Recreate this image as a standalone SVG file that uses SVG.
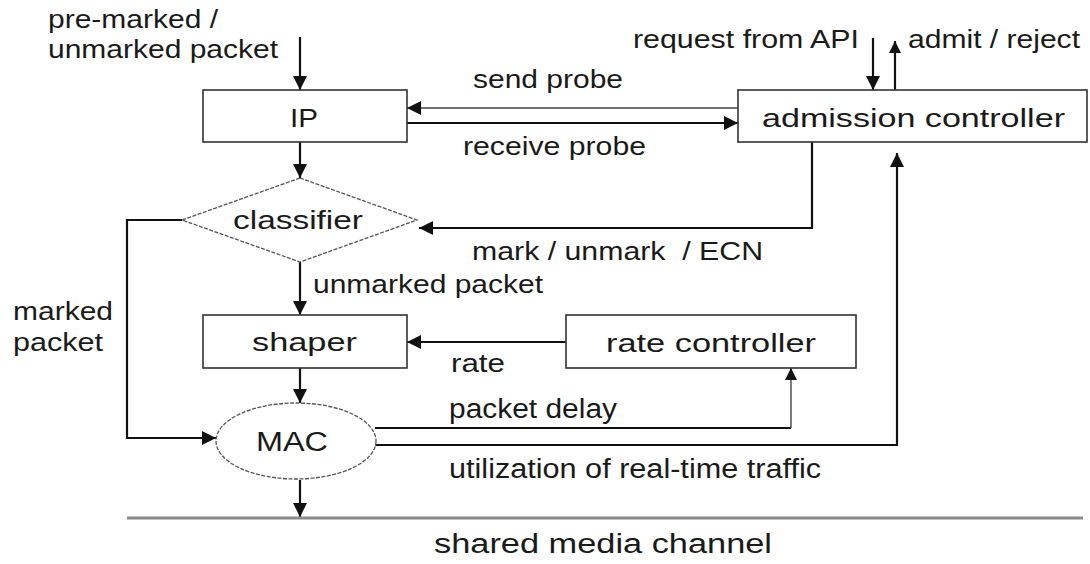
<svg xmlns="http://www.w3.org/2000/svg" width="1090" height="564" viewBox="0 0 1090 564">
<defs>
<style>
text{font-family:"Liberation Sans",Arial,sans-serif;font-size:25px;fill:#1a1a1a}
.tall{font-size:27px}
.box{fill:#fff;stroke:#333;stroke-width:1.6}
.dash{fill:#fff;stroke:#555;stroke-width:1.3;stroke-dasharray:4 1.5}
.ln{fill:none;stroke:#111;stroke-width:2.2}
.thin{fill:none;stroke:#444;stroke-width:1.4}
</style>
<marker id="ah" viewBox="0 0 12 12" refX="12" refY="6" markerWidth="14" markerHeight="14" markerUnits="userSpaceOnUse" orient="auto">
<path d="M0,0 L12,6 L0,12 z" fill="#111"/>
</marker>
<marker id="ahs" viewBox="0 0 12 12" refX="12" refY="6" markerWidth="12" markerHeight="12" markerUnits="userSpaceOnUse" orient="auto">
<path d="M0,0 L12,6 L0,12 z" fill="#111"/>
</marker>
</defs>
<rect width="1090" height="564" fill="#fff"/>

<g id="connectors">
<path class="ln" d="M300,37 V90" marker-end="url(#ah)"/>
<path class="ln" d="M300,142 V178" marker-end="url(#ah)"/>
<path class="thin" d="M738,108 H407" marker-end="url(#ah)"/>
<path class="ln" d="M407,123 H738" marker-end="url(#ah)"/>
<path class="ln" d="M873,38 V90" marker-end="url(#ah)"/>
<path class="ln" d="M895,90 V41" marker-end="url(#ahs)"/>
<path class="ln" d="M812,142 V228 H419" marker-end="url(#ah)"/>
<path class="ln" d="M300,262 V315" marker-end="url(#ah)"/>
<path class="ln" d="M182,220 H127 V438 H216" marker-end="url(#ah)"/>
<path class="ln" d="M566,342 H407" marker-end="url(#ah)"/>
<path class="ln" d="M300,368 V403" marker-end="url(#ah)"/>
<path class="ln" d="M375,428 H791"/>
<path class="thin" d="M791,428 V368" marker-end="url(#ahs)"/>
<path class="ln" d="M375,445 H897 V153" marker-end="url(#ah)"/>
<path class="ln" d="M300,480 V517" marker-end="url(#ah)"/>
<path d="M127,518 H1083" stroke="#8a8a8a" stroke-width="3" fill="none"/>
</g>

<g id="labels">
<text x="48" y="28" textLength="170" lengthAdjust="spacingAndGlyphs">pre-marked /</text>
<text x="48" y="58" textLength="230" lengthAdjust="spacingAndGlyphs">unmarked packet</text>
<text x="473" y="88" textLength="150" lengthAdjust="spacingAndGlyphs">send probe</text>
<text x="463" y="155" textLength="183" lengthAdjust="spacingAndGlyphs">receive probe</text>
<text x="633" y="48" textLength="226" lengthAdjust="spacingAndGlyphs">request from API</text>
<text x="908" y="48" textLength="172" lengthAdjust="spacingAndGlyphs">admit / reject</text>
<text x="472" y="260" textLength="291" lengthAdjust="spacingAndGlyphs" xml:space="preserve">mark / unmark  / ECN</text>
<text x="313" y="293" textLength="230" lengthAdjust="spacingAndGlyphs">unmarked packet</text>
<text x="13" y="320" textLength="100" lengthAdjust="spacingAndGlyphs">marked</text>
<text x="13" y="351" textLength="90" lengthAdjust="spacingAndGlyphs">packet</text>
<text x="451" y="372" textLength="54" lengthAdjust="spacingAndGlyphs">rate</text>
<text class="tall" x="449" y="418" textLength="168" lengthAdjust="spacingAndGlyphs">packet delay</text>
<text class="tall" x="449" y="478" textLength="372" lengthAdjust="spacingAndGlyphs">utilization of real-time traffic</text>
<text class="tall" x="434" y="553" textLength="338" lengthAdjust="spacingAndGlyphs">shared media channel</text>
</g>

<g id="ip">
<rect class="box" x="203" y="90" width="204" height="52"/>
<text x="290" y="127" textLength="28" lengthAdjust="spacingAndGlyphs">IP</text>
</g>

<g id="admission-controller">
<rect class="box" x="738" y="90" width="349" height="52"/>
<text x="762" y="127" textLength="303" lengthAdjust="spacingAndGlyphs">admission controller</text>
</g>

<g id="classifier">
<polygon class="dash" points="300,178 417,220 300,262 182,220"/>
<text x="233" y="229" textLength="130" lengthAdjust="spacingAndGlyphs">classifier</text>
</g>

<g id="shaper">
<rect class="box" x="203" y="315" width="204" height="53"/>
<text x="252" y="351" textLength="105" lengthAdjust="spacingAndGlyphs">shaper</text>
</g>

<g id="rate-controller">
<rect class="box" x="566" y="315" width="290" height="53"/>
<text x="606" y="352" textLength="210" lengthAdjust="spacingAndGlyphs">rate controller</text>
</g>

<g id="mac">
<ellipse class="dash" cx="296" cy="441" rx="80" ry="38"/>
<text class="tall" x="256" y="451" textLength="72" lengthAdjust="spacingAndGlyphs">MAC</text>
</g>
</svg>
